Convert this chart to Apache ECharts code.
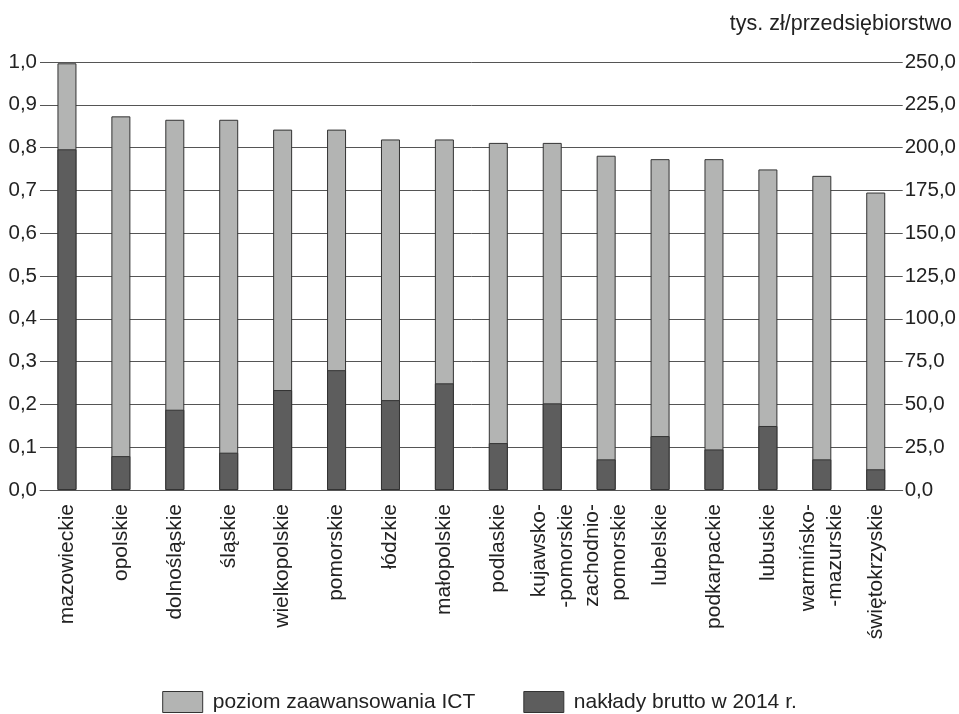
<!DOCTYPE html>
<html>
<head>
<meta charset="utf-8">
<script src="https://cdn.jsdelivr.net/npm/echarts@6/dist/echarts.min.js"></script>
<style>
html,body{margin:0;padding:0;background:#fff;}
#chart{width:959px;height:714px;}
</style>
</head>
<body>
<div id="chart"></div>
<script>
const categories = ['mazowieckie','opolskie','dolnośląskie','śląskie','wielkopolskie','pomorskie','łódzkie','małopolskie','podlaskie','kujawsko-\n-pomorskie','zachodnio-\npomorskie','lubelskie','podkarpackie','lubuskie','warmińsko-\n-mazurskie','świętokrzyskie'];
const ictLevel = [0.997, 0.873, 0.865, 0.865, 0.842, 0.842, 0.819, 0.819, 0.811, 0.811, 0.781, 0.773, 0.773, 0.749, 0.734, 0.695];
const grossOutlays = [199.0, 19.8, 46.9, 21.8, 58.4, 70.0, 52.5, 62.3, 27.4, 50.6, 17.9, 31.5, 23.7, 37.4, 17.9, 12.1];
const leftTicks = {min: 0, max: 1, interval: 0.1};
const rightTicks = {min: 0, max: 250, interval: 25};
const seriesNames = ['poziom zaawansowania ICT', 'nakłady brutto w 2014 r.'];
const unitLabel = 'tys. zł/przedsiębiorstwo';

const FONT = '"Liberation Sans", Arial, sans-serif';
const TXT = '#222';
const chart = echarts.init(document.getElementById('chart'), null, {renderer: 'canvas'});
const fmt = (d) => (v) => v.toFixed(d).replace('.', ',');
chart.setOption({
  animation: false,
  backgroundColor: '#fff',
  textStyle: {fontFamily: FONT, color: TXT},
  title: {
    text: unitLabel, right: 2, top: 8,
    textStyle: {fontFamily: FONT, fontSize: 21.5, fontWeight: 'normal', color: TXT}
  },
  grid: {left: 40, right: 53, top: 62, bottom: 224, containLabel: false},
  legend: {
    top: 686, left: 'center', itemWidth: 40, itemHeight: 21, itemGap: 48, icon: 'rect',
    textStyle: {fontFamily: FONT, fontSize: 21, color: TXT, padding: [0, 0, 0, 5]},
    itemStyle: {borderColor: '#333', borderWidth: 1},
    data: seriesNames
  },
  xAxis: {
    type: 'category', data: categories, boundaryGap: true,
    axisLine: {show: true, lineStyle: {color: '#555', width: 1}},
    axisTick: {show: false},
    axisLabel: {rotate: 90, interval: 0, margin: 14, fontFamily: FONT, fontSize: 21, color: TXT, lineHeight: 27}
  },
  yAxis: [
    {
      type: 'value', min: leftTicks.min, max: leftTicks.max, interval: leftTicks.interval,
      axisLine: {show: false}, axisTick: {show: false},
      axisLabel: {formatter: fmt(1), fontFamily: FONT, fontSize: 20.5, color: TXT, margin: 3},
      splitLine: {show: true, lineStyle: {color: '#555', width: 1}}
    },
    {
      type: 'value', min: rightTicks.min, max: rightTicks.max, interval: rightTicks.interval,
      position: 'right',
      axisLine: {show: false}, axisTick: {show: false},
      axisLabel: {formatter: fmt(1), fontFamily: FONT, fontSize: 20.5, color: TXT, margin: 2},
      splitLine: {show: false}
    }
  ],
  series: [
    {
      name: seriesNames[0], type: 'bar', yAxisIndex: 0, data: ictLevel,
      barWidth: 19, barGap: '-100%',
      itemStyle: {color: '#b3b4b3', borderColor: '#333', borderWidth: 1}
    },
    {
      name: seriesNames[1], type: 'bar', yAxisIndex: 1, data: grossOutlays,
      barWidth: 19, barGap: '-100%',
      itemStyle: {color: '#5d5d5d', borderColor: '#333', borderWidth: 1}
    }
  ]
});
</script>
</body>
</html>
